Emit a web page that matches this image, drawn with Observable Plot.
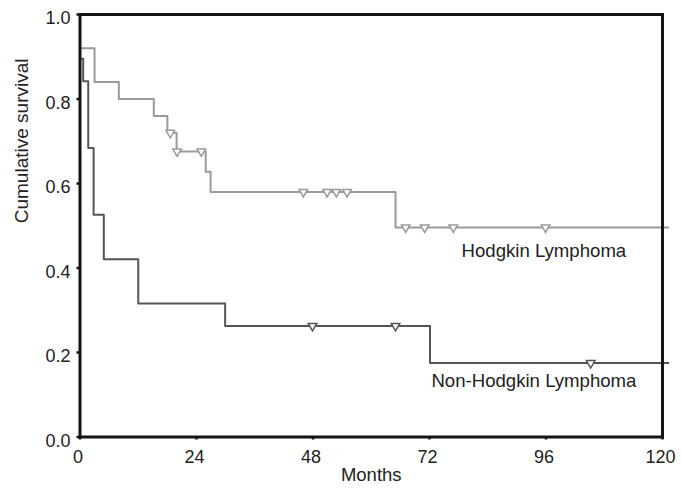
<!DOCTYPE html>
<html><head><meta charset="utf-8">
<script src="https://cdn.jsdelivr.net/npm/d3@7"></script>
<script src="https://cdn.jsdelivr.net/npm/@observablehq/plot@0.6"></script>
<style>body{margin:0;background:#fff;}</style>
</head><body><div id="chart"></div>
<script>
// Kaplan–Meier step points (months, cumulative survival)
const hodgkinMonths = [0, 3, 8, 15.2, 18, 19.9, 25.9, 26.9, 65, 121.2];
const hodgkinSurvival = [0.92, 0.84, 0.80, 0.76, 0.72, 0.676, 0.628, 0.58, 0.496, 0.496];
const hodgkinCensoredMonths = [18.6, 20.0, 25.0, 46.0, 50.9, 52.8, 55.0, 67.1, 71.0, 76.9, 95.9];

const nhlMonths = [0, 0.66, 1.7, 2.8, 4.9, 12.0, 29.9, 72.1, 121.2];
const nhlSurvival = [0.895, 0.842, 0.684, 0.526, 0.421, 0.316, 0.263, 0.175, 0.175];
const nhlCensoredMonths = [47.9, 65.0, 105.2];

const xTicks = [0, 24, 48, 72, 96, 120];
const yTicks = [0, 0.2, 0.4, 0.6, 0.8, 1.0];
const seriesLabels = ["Hodgkin Lymphoma", "Non-Hodgkin Lymphoma"];

// Build tables
const steps = (months, surv) => months.map((m, i) => ({month: m, survival: surv[i]}));
const stepValue = (months, surv, t) => {
  let v = surv[0];
  for (let i = 0; i < months.length; i++) if (months[i] <= t) v = surv[i];
  return v;
};
const censors = (cm, months, surv) => cm.map(t => ({month: t, survival: stepValue(months, surv, t)}));

const hodgkin = steps(hodgkinMonths, hodgkinSurvival);
const nhl = steps(nhlMonths, nhlSurvival);
const hodgkinCens = censors(hodgkinCensoredMonths, hodgkinMonths, hodgkinSurvival);
const nhlCens = censors(nhlCensoredMonths, nhlMonths, nhlSurvival);

const hlColor = "#9a9a9a";
const nhlColor = "#555555";
const textColor = "#222";

const chart = Plot.plot({
  width: 681,
  height: 489,
  marginLeft: 79.5,
  marginRight: 19,
  marginTop: 14,
  marginBottom: 52.5,
  style: {fontFamily: "'Liberation Sans', Arial, sans-serif", fontSize: "18px", color: textColor, background: "#fff"},
  x: {domain: [0, 120]},
  y: {domain: [0, 1]},
  marks: [
    Plot.line(hodgkin, {x: "month", y: "survival", curve: "step-after", stroke: hlColor, strokeWidth: 2}),
    Plot.line(nhl, {x: "month", y: "survival", curve: "step-after", stroke: nhlColor, strokeWidth: 2}),
    Plot.dot(hodgkinCens, {x: "month", y: "survival", symbol: "triangle", rotate: 180, r: 3.2, stroke: hlColor, fill: "white", strokeWidth: 1.5}),
    Plot.dot(nhlCens, {x: "month", y: "survival", symbol: "triangle", rotate: 180, r: 3.2, stroke: nhlColor, fill: "white", strokeWidth: 1.5}),
    Plot.frame({stroke: "#151515", strokeWidth: 3}),
    Plot.axisY(yTicks, {tickSize: 3, fill: "none", stroke: "#111", strokeWidth: 2.5, label: null}),
    Plot.axisY(yTicks, {tickSize: 0, tickPadding: 9.5, dy: 4, tickFormat: d3.format(".1f"), fill: textColor, label: null}),
    Plot.axisX(xTicks, {tickSize: 3, fill: "none", stroke: "#111", strokeWidth: 2.5, label: null}),
    Plot.axisX(xTicks, {tickSize: 0, tickPadding: 13, dx: -2, tickFormat: d3.format("d"), fill: textColor, label: null}),
    Plot.text(["Cumulative survival"], {frameAnchor: "left", rotate: -90, dx: -58, dy: -2.5, fontSize: 19, fill: textColor}),
    Plot.text(["Months"], {frameAnchor: "bottom", dy: 43.5, fontSize: 18.5, fill: textColor}),
    Plot.text([seriesLabels[0]], {x: 78.6, y: 0.44, textAnchor: "start", fontSize: 18.6, fill: textColor}),
    Plot.text([seriesLabels[1]], {x: 72.4, y: 0.133, textAnchor: "start", fontSize: 18.6, fill: textColor})
  ]
});
document.getElementById("chart").appendChild(chart);
</script>
</body></html>
